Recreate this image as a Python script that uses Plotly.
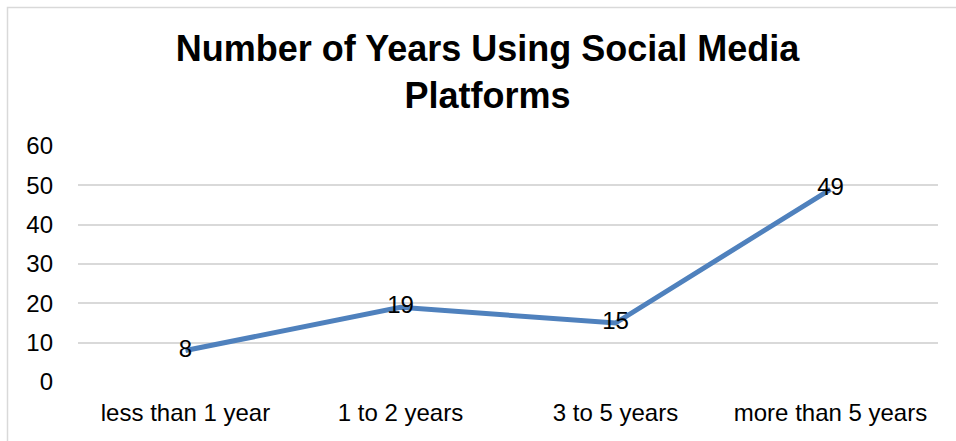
import plotly.graph_objects as go

# Survey responses: years spent using social media platforms
categories = ["less than 1 year", "1 to 2 years", "3 to 5 years", "more than 5 years"]
counts = [8, 19, 15, 49]
y_ticks = [0, 10, 20, 30, 40, 50, 60]

LINE_BLUE = "#4F81BD"
GRID_GREY = "#D9D9D9"
FONT = "Liberation Sans, Arial, sans-serif"

fig = go.Figure(
    go.Scatter(
        x=categories,
        y=counts,
        mode="lines+text",
        line=dict(color=LINE_BLUE, width=5),
        text=[str(v) for v in counts],
        textposition="middle center",
        textfont=dict(family=FONT, size=24, color="#000000"),
        hoverinfo="x+y",
        cliponaxis=False,
    )
)

fig.update_layout(
    width=956,
    height=441,
    margin=dict(l=78, r=18, t=146, b=59),
    paper_bgcolor="white",
    plot_bgcolor="white",
    showlegend=False,
    font=dict(family=FONT, color="#000000"),
    title=dict(
        text="<b>Number of Years Using Social Media<br>Platforms</b>",
        x=0.51,
        xref="container",
        xanchor="center",
        y=1 - 61 / 441,
        yref="container",
        yanchor="middle",
        font=dict(family=FONT, size=36, color="#000000"),
    ),
    xaxis=dict(
        type="category",
        range=[-0.5, len(categories) - 0.5],
        showgrid=False,
        showline=False,
        zeroline=False,
        ticks="",
        tickfont=dict(family=FONT, size=24, color="#000000"),
        ticklabelstandoff=14,
    ),
    yaxis=dict(
        range=[0, 60],
        tickvals=y_ticks,
        showgrid=True,
        gridcolor=GRID_GREY,
        gridwidth=1.5,
        zeroline=False,
        showline=False,
        ticks="",
        tickfont=dict(family=FONT, size=24, color="#000000"),
        ticklabelstandoff=24,
    ),
)

# Chart frame (left and top edges sit inside the page)
fig.add_shape(
    type="rect",
    xref="paper", yref="paper",
    x0=(7.5 - 78) / 860, x1=(1000 - 78) / 860,
    y0=(382 - 480) / 236, y1=(382 - 7.5) / 236,
    line=dict(color="#D9D9D9", width=1.5),
    fillcolor="rgba(0,0,0,0)",
    layer="below",
)

fig.write_html("out.html")
